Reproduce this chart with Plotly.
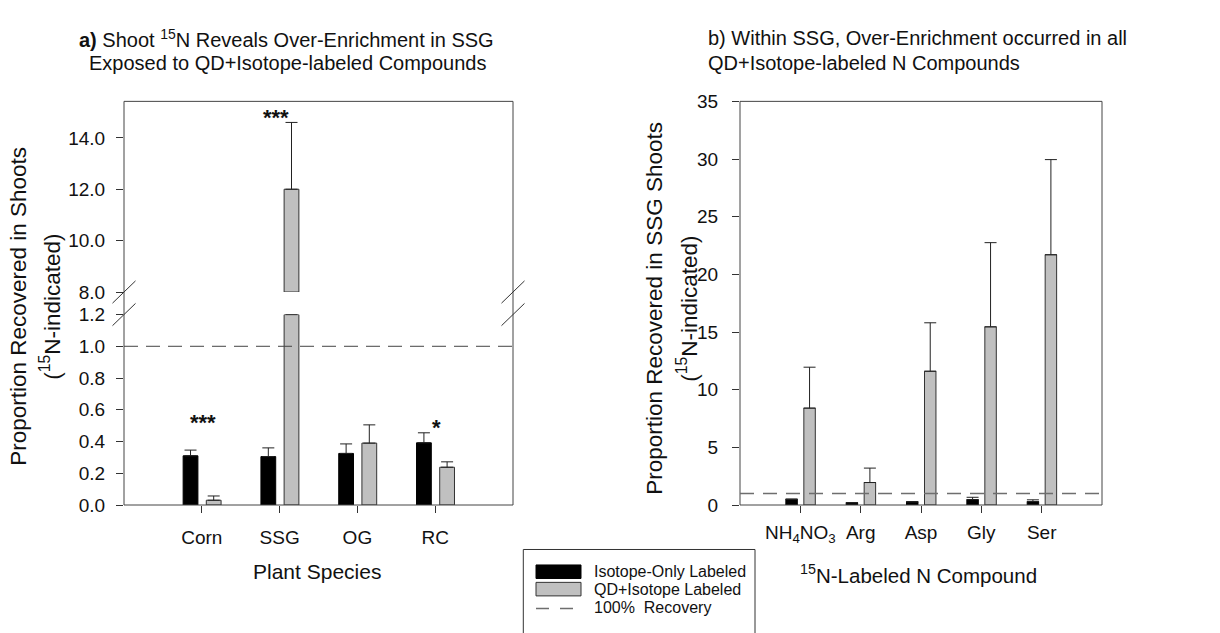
import plotly.graph_objects as go

W, H = 1220, 633
FONT = "Liberation Sans, Arial, sans-serif"

# ---------------- data ----------------
species = ["Corn", "SSG", "OG", "RC"]
iso_only_a = [0.31, 0.305, 0.325, 0.392]
iso_only_a_err = [0.036, 0.055, 0.06, 0.063]
qd_iso_a = [0.03, 12.0, 0.39, 0.238]
qd_iso_a_err = [0.027, 2.6, 0.115, 0.034]
sig_labels_a = ["***", "***", "", "*"]
sig_y_a = [0.55, 15.0, None, 0.52]

compounds = ["NH4NO3", "Arg", "Asp", "Gly", "Ser"]
compound_ticktext = ["NH<sub>4</sub>NO<sub>3</sub>", "Arg", "Asp", "Gly", "Ser"]
iso_only_b = [0.5, 0.2, 0.28, 0.47, 0.3]
iso_only_b_err = [0.0, 0.0, 0.0, 0.2, 0.15]
qd_iso_b = [8.4, 1.95, 11.6, 15.45, 21.7]
qd_iso_b_err = [3.55, 1.25, 4.2, 7.3, 8.25]

recovery_ref = 1.0
break_low = 1.2     # top of the lower segment (panel a)
break_high = 8.0    # bottom of the upper segment (panel a)
upper_top = 15.42

lower_ticks = [0.0, 0.2, 0.4, 0.6, 0.8, 1.0, 1.2]
upper_ticks = [8.0, 10.0, 12.0, 14.0]
right_ticks = [0, 5, 10, 15, 20, 25, 30, 35]

# ---------------- helpers ----------------
def px(x):
    return x / W

def py(y):
    return 1 - y / H

BLACK = "#000000"
GRAY = "#c0c0c0"
EDGE = "#333333"

L_X0, L_X1 = 124.0, 513.0
L_Y0, L_BRK_LO, L_BRK_HI, L_Y1 = 512.0, 315.0, 291.7, 94.5
R_X0, R_X1 = 740.0, 1102.0
R_Y0, R_Y1 = 512.0, 94.5

OFF_A, OFF_B, BW = -0.24, 0.058, 0.19

fig = go.Figure()

def err(arr):
    return dict(type="data", array=arr, arrayminus=[0] * len(arr), symmetric=False,
                color="#222222", thickness=1, width=6)

# panel a lower segment
fig.add_trace(go.Bar(x=species, y=iso_only_a, xaxis="x", yaxis="y", offset=OFF_A, width=BW,
                     marker=dict(color=BLACK, line=dict(color=BLACK, width=1)),
                     error_y=err(iso_only_a_err), name="Isotope-Only Labeled"))
qd_low = [min(v, break_low) for v in qd_iso_a]
qd_low_err = [e if v <= break_low else 0 for v, e in zip(qd_iso_a, qd_iso_a_err)]
fig.add_trace(go.Bar(x=species, y=qd_low, xaxis="x", yaxis="y", offset=OFF_B, width=BW,
                     marker=dict(color=GRAY, line=dict(color=EDGE, width=1)),
                     error_y=err(qd_low_err), name="QD+Isotope Labeled"))
# panel a upper segment (only values above the break)
qd_up = [v - break_high if v > break_high else None for v in qd_iso_a]
qd_up_err = [e if v > break_high else 0 for v, e in zip(qd_iso_a, qd_iso_a_err)]
fig.add_trace(go.Bar(x=species, y=qd_up, base=break_high, xaxis="x", yaxis="y2", offset=OFF_B, width=BW,
                     marker=dict(color=GRAY, line=dict(color=EDGE, width=1)),
                     error_y=err(qd_up_err), name="QD+Isotope Labeled (upper)"))

# panel b
fig.add_trace(go.Bar(x=compounds, y=iso_only_b, xaxis="x2", yaxis="y3", offset=OFF_A, width=BW,
                     marker=dict(color=BLACK, line=dict(color=BLACK, width=1)),
                     error_y=err(iso_only_b_err), name="Isotope-Only Labeled"))
fig.add_trace(go.Bar(x=compounds, y=qd_iso_b, xaxis="x2", yaxis="y3", offset=OFF_B, width=BW,
                     marker=dict(color=GRAY, line=dict(color=EDGE, width=1)),
                     error_y=err(qd_iso_b_err), name="QD+Isotope Labeled"))

tick_common = dict(showgrid=False, zeroline=False, showline=False, ticks="outside", ticklen=7,
                   tickcolor=EDGE, tickwidth=1, tickfont=dict(size=19, color="#111111", family=FONT))

fig.update_layout(
    width=W, height=H, margin=dict(l=0, r=0, t=0, b=0),
    paper_bgcolor="white", plot_bgcolor="white",
    barmode="overlay", showlegend=False,
    font=dict(family=FONT, color="#111111"),
    xaxis=dict(domain=[px(L_X0), px(L_X1)], anchor="y", type="category", range=[-1, 4],
               ticklabelstandoff=8, **tick_common),
    yaxis=dict(domain=[py(L_Y0), py(L_BRK_LO)], anchor="x", range=[0, break_low],
               tickvals=lower_ticks, tickformat=".1f", ticklabelstandoff=7, **tick_common),
    yaxis2=dict(domain=[py(L_BRK_HI), py(L_Y1)], anchor="x", range=[break_high, upper_top],
                tickvals=upper_ticks, tickformat=".1f", ticklabelstandoff=7, **tick_common),
    xaxis2=dict(domain=[px(R_X0), px(R_X1)], anchor="y3", type="category", range=[-1, 5],
                tickvals=compounds, ticktext=compound_ticktext, ticklabelstandoff=3, **tick_common),
    yaxis3=dict(domain=[py(R_Y0), py(R_Y1)], anchor="x2", range=[0, 35],
                tickvals=right_ticks, ticklabelstandoff=10, **tick_common),
)

shapes = []
# frames
shapes.append(dict(type="rect", xref="paper", yref="paper", x0=px(L_X0), x1=px(L_X1), y0=py(L_Y0), y1=py(L_Y1),
                   line=dict(color="#444444", width=1), layer="above"))
shapes.append(dict(type="rect", xref="paper", yref="paper", x0=px(R_X0), x1=px(R_X1), y0=py(R_Y0), y1=py(R_Y1),
                   line=dict(color="#444444", width=1), layer="above"))
# axis break marks
for xc in (L_X0, L_X1):
    for yc in (L_BRK_HI, L_BRK_LO):
        shapes.append(dict(type="line", xref="paper", yref="paper",
                           x0=px(xc - 11.5), y0=py(yc + 11.5), x1=px(xc + 11.5), y1=py(yc - 11.5),
                           line=dict(color="#333333", width=1)))
# 100% recovery lines
shapes.append(dict(type="line", xref="x domain", yref="y", x0=0, x1=1, y0=recovery_ref, y1=recovery_ref,
                   line=dict(color="#444444", width=1, dash="14px,8px")))
shapes.append(dict(type="line", xref="x2 domain", yref="y3", x0=0, x1=1, y0=recovery_ref, y1=recovery_ref,
                   line=dict(color="#6e6e6e", width=1.5, dash="14px,9px")))
# legend
LG_TOP = 558
shapes.append(dict(type="rect", xref="paper", yref="paper", x0=px(523.3), x1=px(755), y0=py(650), y1=py(LG_TOP),
                   line=dict(color="#333333", width=1), fillcolor="white"))
shapes.append(dict(type="rect", xref="paper", yref="paper", x0=px(536), x1=px(581), y0=py(LG_TOP + 30), y1=py(LG_TOP + 16),
                   line=dict(color=BLACK, width=1), fillcolor=BLACK))
shapes.append(dict(type="rect", xref="paper", yref="paper", x0=px(536), x1=px(581), y0=py(LG_TOP + 48), y1=py(LG_TOP + 34),
                   line=dict(color=EDGE, width=1), fillcolor=GRAY))
shapes.append(dict(type="line", xref="paper", yref="paper", x0=px(536), x1=px(574), y0=py(LG_TOP + 61), y1=py(LG_TOP + 61),
                   line=dict(color="#6e6e6e", width=1.5, dash="13px,11px")))
fig.update_layout(shapes=shapes)

ann = []
def text(x, y, s, size, xanchor="center", angle=0, **kw):
    ann.append(dict(xref="paper", yref="paper", x=px(x), y=py(y), text=s, showarrow=False,
                    xanchor=xanchor, yanchor="middle", textangle=angle,
                    font=dict(size=size, family=FONT, color="#111111"), **kw))

# titles
text(286, 29, "<b>a)</b> Shoot <sup>15</sup>N Reveals Over-Enrichment in SSG", 20)
text(287, 55, "Exposed to QD+Isotope-labeled Compounds", 20)
text(706, 29, "b) Within SSG, Over-Enrichment occurred in all", 20, xanchor="left")
text(706, 55, "QD+Isotope-labeled N Compounds", 20, xanchor="left")
# axis titles
text(317, 581, "Plant Species", 21)
text(918, 583, "<sup>15</sup>N-Labeled N Compound", 20.5)
text(19, 307, "Proportion Recovered in Shoots", 22.5, angle=-90)
text(50, 307, "(<sup>15</sup>N-indicated)", 22.5, angle=-90)
text(655, 309, "Proportion Recovered in SSG Shoots", 22.5, angle=-90)
text(687, 309, "(<sup>15</sup>N-indicated)", 22.5, angle=-90)
# legend texts
text(592, LG_TOP + 23, "Isotope-Only Labeled", 16, xanchor="left")
text(592, LG_TOP + 41, "QD+Isotope Labeled", 16, xanchor="left")
text(592, LG_TOP + 60, "100%  Recovery", 16, xanchor="left")

# significance marks
for cat, lab, yv in zip(species, sig_labels_a, sig_y_a):
    if not lab:
        continue
    yref = "y2" if yv > break_high else "y"
    ann.append(dict(xref="x", yref=yref, x=cat, y=yv, text="<b>%s</b>" % lab, showarrow=False,
                    xanchor="center", yanchor="middle", yshift=-5, xshift=(-4 if yref == "y2" else 1),
                    font=dict(size=22, family=FONT, color="#111111")))

fig.update_layout(annotations=ann)
fig.write_html("out.html")
